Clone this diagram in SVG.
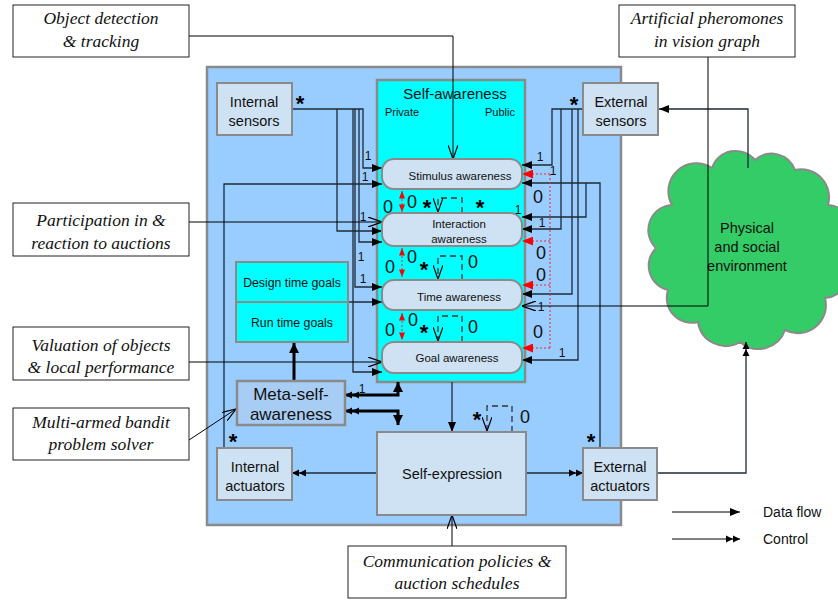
<svg xmlns="http://www.w3.org/2000/svg" width="838" height="600" viewBox="0 0 838 600">
<style>
.box{fill:#cfe2f3;stroke:#8a8a8a;stroke-width:2}
.t{font-family:"Liberation Sans",Arial,sans-serif;fill:#111;text-anchor:middle}
.lg{font-family:"Liberation Sans",Arial,sans-serif;fill:#111;text-anchor:start;font-size:14px}
.c{fill:#fff;stroke:#222;stroke-width:1}
.ct{font-family:"Liberation Serif","Times New Roman",serif;font-style:italic;font-size:17.5px;text-anchor:middle;fill:#111}
.ln{fill:none;stroke:#1e2a36;stroke-width:1.3}
.thin{fill:none;stroke:#000;stroke-width:1}
.red{fill:none;stroke:#f22;stroke-width:1;stroke-dasharray:2 2}
.dash{fill:none;stroke:#333;stroke-width:1.3;stroke-dasharray:6 4}
.thick{fill:none;stroke:#000;stroke-width:3}
.n0{font-family:"Liberation Sans",Arial,sans-serif;font-size:18px;fill:#111;text-anchor:middle}
.n1{font-family:"Liberation Sans",Arial,sans-serif;font-size:12px;fill:#111;text-anchor:middle}
.st{font-family:"Liberation Sans",Arial,sans-serif;font-size:22px;font-weight:bold;fill:#000;text-anchor:middle}
</style>
<defs>
<marker id="ar" viewBox="0 0 10 8" refX="10" refY="4" markerWidth="11" markerHeight="8" markerUnits="userSpaceOnUse" orient="auto-start-reverse"><path d="M0,0L10,4L0,8z" fill="#000"/></marker>
<marker id="rd" viewBox="0 0 10 8" refX="10" refY="4" markerWidth="11" markerHeight="9" markerUnits="userSpaceOnUse" orient="auto-start-reverse"><path d="M0,0L10,4L0,8z" fill="#f00"/></marker>
<marker id="rs" viewBox="0 0 10 8" refX="10" refY="4" markerWidth="8" markerHeight="6" markerUnits="userSpaceOnUse" orient="auto-start-reverse"><path d="M0,0L10,4L0,8z" fill="#f00"/></marker>
<marker id="db" viewBox="0 0 16 8" refX="16" refY="4" markerWidth="14" markerHeight="8" markerUnits="userSpaceOnUse" orient="auto-start-reverse"><path d="M0,0L8,4L0,8zM8,0L16,4L8,8z" fill="#000"/></marker>
<marker id="op" viewBox="0 0 14 10" refX="14" refY="5" markerWidth="14" markerHeight="10" markerUnits="userSpaceOnUse" orient="auto"><path d="M0,0L14,5L0,10" fill="none" stroke="#000" stroke-width="1.2"/></marker>
<marker id="th" viewBox="0 0 10 10" refX="10" refY="5" markerWidth="10" markerHeight="10" markerUnits="userSpaceOnUse" orient="auto-start-reverse"><path d="M0,0L10,5L0,10z" fill="#000"/></marker>
</defs>

<g id="panel"><rect x="207" y="67" width="414" height="458" fill="#99ccff" stroke="#8a8a8a" stroke-width="2.5"/></g>

<g id="self-awareness">
<rect x="377" y="80" width="148" height="302" fill="#00ffff" stroke="#8a8a8a" stroke-width="2.5"/>
<text class="t" x="455" y="99" font-size="15">Self-awareness</text>
<text class="t" x="402" y="116" font-size="11">Private</text>
<text class="t" x="500" y="116" font-size="11">Public</text>
</g>

<g id="cloud">
<path d="M672,205 A28,28 0 0 1 712,168 A25,25 0 0 1 755,160 A25,25 0 0 1 795,170 A28,28 0 0 1 828,205 A25,25 0 0 1 842,250 A28,28 0 0 1 825,298 A28,28 0 0 1 785,330 A28,28 0 0 1 740,342 A28,28 0 0 1 698,322 A25,25 0 0 1 668,290 A25,25 0 0 1 656,248 A25,25 0 0 1 672,205 Z" fill="#33cc66" stroke="#8a8a8a" stroke-width="2"/>
<text class="t" x="747" y="233" font-size="14.5">Physical</text>
<text class="t" x="747" y="252" font-size="14.5">and social</text>
<text class="t" x="747" y="271" font-size="14.5">environment</text>
</g>

<g id="connectors">
<path class="ln" d="M292,109 H363 V168 H382" marker-end="url(#ar)"/>
<path class="ln" d="M337,109 V231 H382" marker-end="url(#ar)"/>
<path class="ln" d="M359,109 V242 H382" marker-end="url(#ar)"/>
<path class="ln" d="M355,109 V287 H382" marker-end="url(#ar)"/>
<path class="ln" d="M353,109 V372 H382" marker-end="url(#ar)"/>
<path class="ln" d="M224,448 V184 H382" marker-end="url(#ar)"/>
<path class="ln" d="M348,302 H382" marker-end="url(#ar)"/>
<path class="ln" d="M583,109 H552 V165 H522" marker-end="url(#ar)"/>
<path class="ln" d="M561,109 V229 H522" marker-end="url(#ar)"/>
<path class="ln" d="M572,109 V294 H522" marker-end="url(#ar)"/>
<path class="ln" d="M578,109 V360 H522" marker-end="url(#ar)"/>
<path class="ln" d="M600,448 V183 H522" marker-end="url(#ar)"/>
<path class="ln" d="M586,183 V217 H522" marker-end="url(#ar)"/>
<path class="red" d="M550,174 V348"/>
<path class="red" d="M550,174 H522" marker-end="url(#rd)"/>
<path class="red" d="M550,241 H522" marker-end="url(#rd)"/>
<path class="red" d="M550,285 H522" marker-end="url(#rd)"/>
<path class="red" d="M550,348 H522" marker-end="url(#rd)"/>
<path class="red" d="M402,191 V212" marker-start="url(#rs)" marker-end="url(#rs)"/>
<path class="red" d="M402,248 V277" marker-start="url(#rs)" marker-end="url(#rs)"/>
<path class="red" d="M402,313 V340" marker-start="url(#rs)" marker-end="url(#rs)"/>
<path class="dash" d="M462,213 V198 H438 V212" marker-end="url(#op)"/>
<path class="dash" d="M462,280 V256 H438 V279" marker-end="url(#op)"/>
<path class="dash" d="M462,342 V316 H438 V341" marker-end="url(#op)"/>
<path class="dash" d="M512,432 V406 H487 V431" marker-end="url(#op)"/>
<path class="ln" d="M452,382 V432" marker-end="url(#ar)"/>
<path class="thick" d="M345,395 H398 V382" marker-start="url(#db)" marker-end="url(#th)"/>
<path class="thick" d="M345,411 H398 V425" marker-start="url(#db)" marker-end="url(#th)"/>
<path class="thick" d="M294,381 V343" marker-end="url(#th)"/>
<path class="ln" d="M377,473 H292" marker-end="url(#db)"/>
<path class="ln" d="M526,473 H583" marker-end="url(#db)"/>
<path class="ln" stroke="#555" d="M657,473 H746 V342" marker-end="url(#db)"/>
<path class="ln" stroke="#555" d="M748,168 V109 H659" marker-end="url(#ar)"/>
<path class="thin" d="M189,36 H453 V159" marker-end="url(#op)"/>
<path class="thin" d="M708,57 V306 H522" marker-end="url(#op)"/>
<path class="thin" d="M189,222 H382" marker-end="url(#op)"/>
<path class="thin" d="M189,362 H382" marker-end="url(#op)"/>
<path class="thin" d="M189,440 L236,409" marker-end="url(#op)"/>
<path class="thin" d="M452,546 V515" marker-end="url(#op)"/>
<path class="thin" d="M672,512 H740" marker-end="url(#ar)"/>
<path class="thin" d="M672,539 H740" marker-end="url(#db)"/>
</g>

<g id="internal-sensors"><rect class="box" x="217" y="83" width="75" height="52"/>
<text class="t" x="254" y="107" font-size="14.5">Internal</text><text class="t" x="254" y="126" font-size="14.5">sensors</text></g>
<g id="external-sensors"><rect class="box" x="583" y="83" width="75" height="52"/>
<text class="t" x="621" y="107" font-size="14.5">External</text><text class="t" x="621" y="126" font-size="14.5">sensors</text></g>

<g id="stimulus-awareness"><rect class="box" x="382" y="159" width="140" height="30" rx="12"/>
<text class="t" x="460" y="180" font-size="11.5">Stimulus awareness</text></g>
<g id="interaction-awareness"><rect class="box" x="382" y="213" width="140" height="33" rx="12"/>
<text class="t" x="459" y="228" font-size="11.5">Interaction</text><text class="t" x="459" y="243" font-size="11.5">awareness</text></g>
<g id="time-awareness"><rect class="box" x="382" y="280" width="140" height="30" rx="12"/>
<text class="t" x="459" y="301" font-size="11.5">Time awareness</text></g>
<g id="goal-awareness"><rect class="box" x="382" y="342" width="140" height="31" rx="12"/>
<text class="t" x="457" y="362" font-size="11.5">Goal awareness</text></g>

<g id="goals"><rect x="236" y="262" width="112" height="80" fill="#00ffff" stroke="#8a8a8a" stroke-width="2"/>
<line x1="236" y1="302" x2="348" y2="302" stroke="#8a8a8a" stroke-width="2"/>
<text class="t" x="292" y="287" font-size="12.3">Design time goals</text>
<text class="t" x="292" y="327" font-size="12.3">Run time goals</text></g>

<g id="meta-self-awareness"><rect x="237" y="381" width="108" height="44" fill="#a8cdf5" stroke="#8a8a8a" stroke-width="2.5"/>
<text class="t" x="291" y="400" font-size="17">Meta-self-</text><text class="t" x="291" y="420" font-size="17">awareness</text></g>

<g id="internal-actuators"><rect class="box" x="217" y="448" width="75" height="52"/>
<text class="t" x="255" y="472" font-size="14.5">Internal</text><text class="t" x="255" y="491" font-size="14.5">actuators</text></g>
<g id="self-expression"><rect class="box" x="377" y="432" width="149" height="83"/>
<text class="t" x="452" y="479" font-size="14.5">Self-expression</text></g>
<g id="external-actuators"><rect class="box" x="583" y="448" width="74" height="52"/>
<text class="t" x="620" y="472" font-size="14.5">External</text><text class="t" x="620" y="491" font-size="14.5">actuators</text></g>

<g id="labels">
<text class="st" x="300" y="111">*</text>
<text class="st" x="574" y="112">*</text>
<text class="st" x="233" y="449">*</text>
<text class="st" x="591" y="449">*</text>
<text class="st" x="427" y="215">*</text>
<text class="st" x="480" y="215">*</text>
<text class="st" x="424" y="277">*</text>
<text class="st" x="424" y="340">*</text>
<text class="st" x="477" y="427">*</text>
<text class="n0" x="388" y="213">0</text>
<text class="n0" x="412" y="208">0</text>
<text class="n0" x="390" y="273">0</text>
<text class="n0" x="412" y="263">0</text>
<text class="n0" x="473" y="268">0</text>
<text class="n0" x="390" y="336">0</text>
<text class="n0" x="413" y="326">0</text>
<text class="n0" x="473" y="333">0</text>
<text class="n0" x="538" y="203">0</text>
<text class="n0" x="541" y="259">0</text>
<text class="n0" x="541" y="281">0</text>
<text class="n0" x="538" y="338">0</text>
<text class="n0" x="525" y="423">0</text>
<text class="n1" x="368" y="160">1</text>
<text class="n1" x="365" y="181">1</text>
<text class="n1" x="363" y="221">1</text>
<text class="n1" x="361" y="261">1</text>
<text class="n1" x="363" y="283" font-size="10">1</text>
<text class="n1" x="362" y="393" font-size="16">1</text>
<text class="n1" x="540" y="161">1</text>
<text class="n1" x="553" y="175" fill="#224">1</text>
<text class="n1" x="518" y="214">1</text>
<text class="n1" x="542" y="227">1</text>
<text class="n1" x="541" y="311">1</text>
<text class="n1" x="562" y="357">1</text>
<text class="lg" x="763" y="517">Data flow</text>
<text class="lg" x="763" y="544">Control</text>
</g>

<g id="callout-object"><rect class="c" x="13" y="5" width="176" height="52"/>
<text class="ct" x="101" y="24">Object detection</text><text class="ct" x="101" y="47">&amp; tracking</text></g>
<g id="callout-pheromones"><rect class="c" x="619" y="5" width="176" height="52"/>
<text class="ct" x="707" y="24">Artificial pheromones</text><text class="ct" x="707" y="47">in vision graph</text></g>
<g id="callout-auctions"><rect class="c" x="13" y="203" width="176" height="53"/>
<text class="ct" x="101" y="226">Participation in &amp;</text><text class="ct" x="101" y="249">reaction to auctions</text></g>
<g id="callout-valuation"><rect class="c" x="13" y="327" width="176" height="53"/>
<text class="ct" x="101" y="351">Valuation of objects</text><text class="ct" x="101" y="373">&amp; local performance</text></g>
<g id="callout-bandit"><rect class="c" x="13" y="408" width="176" height="52"/>
<text class="ct" x="101" y="428">Multi-armed bandit</text><text class="ct" x="101" y="450">problem solver</text></g>
<g id="callout-communication"><rect class="c" x="348" y="546" width="218" height="52"/>
<text class="ct" x="457" y="567">Communication policies &amp;</text><text class="ct" x="457" y="589">auction schedules</text></g>
</svg>
